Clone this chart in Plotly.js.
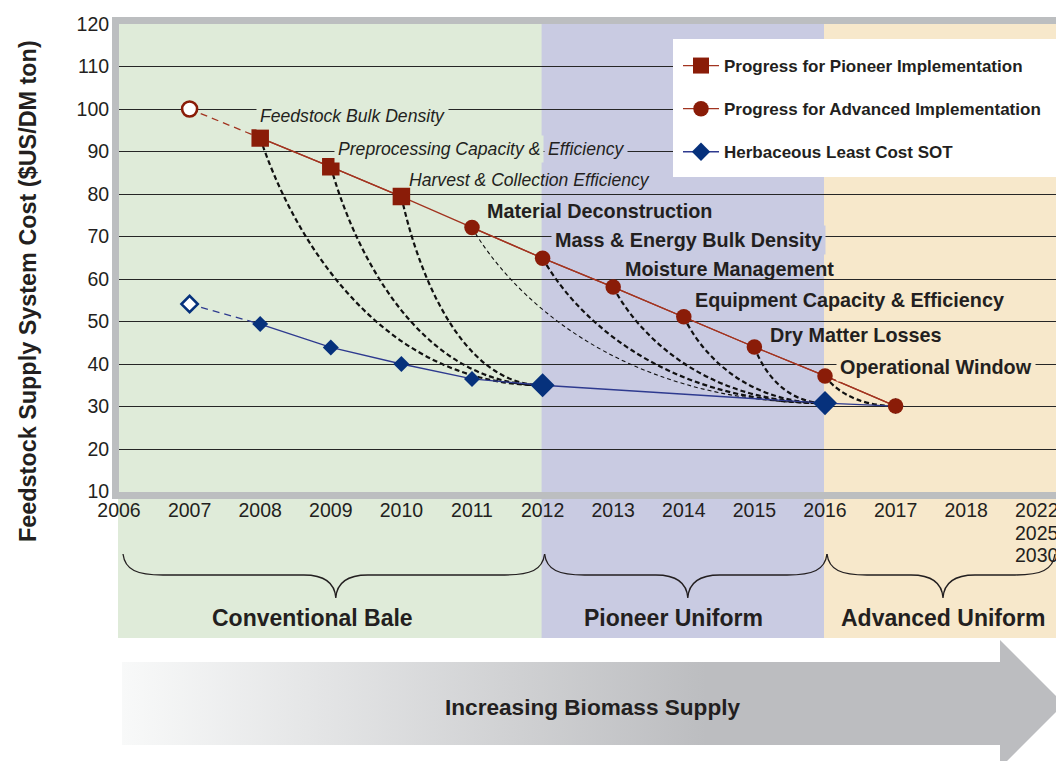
<!DOCTYPE html>
<html>
<head>
<meta charset="utf-8">
<script src="https://cdn.plot.ly/plotly-3.0.1.min.js"></script>
<style>
html, body { margin: 0; padding: 0; background: #ffffff; }
#chart { width: 1056px; height: 761px; }
</style>
</head>
<body>
<div id="chart"></div>
<script>
// ---------------- data ----------------
const baselineYear = [2007];
const baselineProgressCost = [100];
const baselineSotCost = [54.1];

const pioneerYears = [2008, 2009, 2010];
const pioneerCost = [93.2, 86.4, 79.4];

const advancedYears = [2011, 2012, 2013, 2014, 2015, 2016, 2017];
const advancedCost = [72.1, 64.9, 58.1, 51.1, 44.0, 37.2, 30.1];

const sotYears = [2008, 2009, 2010, 2011, 2012, 2016, 2017];
const sotCost = [49.4, 43.9, 40.0, 36.5, 35.0, 30.8, 30.1];
const milestoneYears = [2012, 2016];

const connectorFrom = [2008, 2009, 2010, 2011, 2012, 2013, 2014, 2015, 2016];
const connectorTo = [2012, 2012, 2012, 2016, 2016, 2016, 2016, 2016, 2017];

const tickYears = [2006, 2007, 2008, 2009, 2010, 2011, 2012, 2013, 2014, 2015, 2016, 2017, 2018, 2019];
const tickLabels = ['2006', '2007', '2008', '2009', '2010', '2011', '2012', '2013', '2014', '2015', '2016', '2017', '2018', '2022'];
const extraTickLabels = ['2025', '2030'];
const costTicks = [10, 20, 30, 40, 50, 60, 70, 80, 90, 100, 110, 120];

const pioneerLabels = ['Feedstock Bulk Density', 'Preprocessing Capacity &', 'Efficiency', 'Harvest & Collection Efficiency'];
const advancedLabels = ['Material Deconstruction', 'Mass & Energy Bulk Density', 'Moisture Management',
  'Equipment Capacity & Efficiency', 'Dry Matter Losses', 'Operational Window'];

const phaseNames = ['Conventional Bale', 'Pioneer Uniform', 'Advanced Uniform'];
const phaseStart = [2006, 2012, 2016];
const seriesNames = ['Progress for Pioneer Implementation', 'Progress for Advanced Implementation', 'Herbaceous Least Cost SOT'];
const yTitle = 'Feedstock Supply System Cost ($US/DM ton)';
const arrowLabel = 'Increasing Biomass Supply';

// ---------------- style / geometry ----------------
const W = 1056, H = 761;
const FONT = '"Liberation Sans", Arial, sans-serif';
const INK = '#231f20';
const RED = '#8a1c08', RED_LINE = '#a23420';
const BLUE = '#06317c', BLUE_LINE = '#2e3a8f';
const BAND_COLORS = ['#dfebd9', '#c9cbe2', '#f7e8cb'];
const FRAME = '#bcbec0';

const PX_LEFT = 119, PX_PER_YEAR = 70.6, PY_TOP = 24, PY_BOTTOM = 491.5;
const X0 = 2006, X1 = X0 + (W - PX_LEFT) / PX_PER_YEAR;
const px = yr => PX_LEFT + (yr - X0) * PX_PER_YEAR;
const paperX = p => p / W;
const paperY = p => 1 - p / H;

const costAt = yr => {
  let i = pioneerYears.indexOf(yr);
  if (i >= 0) return pioneerCost[i];
  i = advancedYears.indexOf(yr);
  return advancedCost[i];
};
const sotAt = yr => sotCost[sotYears.indexOf(yr)];

// ---------------- traces ----------------
const traces = [];
traces.push({
  x: baselineYear.concat([sotYears[0]]), y: baselineSotCost.concat([sotCost[0]]),
  mode: 'lines', line: {color: BLUE_LINE, width: 1.3, dash: '7px,5px'},
  showlegend: false, hoverinfo: 'skip'
});
traces.push({
  x: baselineYear, y: baselineSotCost, mode: 'markers',
  marker: {symbol: 'diamond', size: 12.5, color: '#ffffff', line: {color: BLUE, width: 2.6}},
  showlegend: false, hoverinfo: 'skip'
});
traces.push({
  name: seriesNames[2], legendgroup: 'c', legendrank: 3,
  x: sotYears, y: sotCost, mode: 'lines+markers',
  line: {color: BLUE_LINE, width: 1.3},
  marker: {symbol: 'diamond', color: BLUE, opacity: 1, line: {width: 0},
    size: sotYears.map(y => milestoneYears.includes(y) ? 18.5 : 12.3)}
});
traces.push({
  x: baselineYear.concat([pioneerYears[0]]), y: baselineProgressCost.concat([pioneerCost[0]]),
  mode: 'lines', line: {color: RED_LINE, width: 1.3, dash: '7px,5px'},
  showlegend: false, hoverinfo: 'skip'
});
traces.push({
  x: pioneerYears.concat(advancedYears), y: pioneerCost.concat(advancedCost),
  mode: 'lines', line: {color: RED_LINE, width: 1.3},
  showlegend: false, hoverinfo: 'skip'
});
traces.push({
  x: baselineYear, y: baselineProgressCost, mode: 'markers',
  marker: {symbol: 'circle', size: 15, color: '#ffffff', line: {color: RED, width: 2.6}},
  showlegend: false, hoverinfo: 'skip'
});
traces.push({
  name: seriesNames[0], legendgroup: 'a', legendrank: 1,
  x: pioneerYears, y: pioneerCost, mode: 'lines+markers',
  line: {color: RED_LINE, width: 1.3},
  marker: {symbol: 'square', size: 17.5, color: RED, line: {width: 0}}
});
traces.push({
  name: seriesNames[1], legendgroup: 'b', legendrank: 2,
  x: advancedYears, y: advancedCost, mode: 'lines+markers',
  line: {color: RED_LINE, width: 1.3},
  marker: {symbol: 'circle', size: 15.5, color: RED, line: {width: 0}}
});
// gradient arrow (decoration, pixel canvas on x2/y2)
traces.push({
  x: [122, 1000, 1000, 1064, 1000, 1000, 122, 122],
  y: [662, 662, 640, 704, 768, 745, 745, 662],
  xaxis: 'x2', yaxis: 'y2', mode: 'lines', line: {width: 0},
  fill: 'toself',
  fillgradient: {type: 'horizontal', start: 122, stop: 1064,
    colorscale: [[0, '#f8f9f9'], [0.62, '#bcbdc0'], [1, '#bcbdc0']]},
  showlegend: false, hoverinfo: 'skip'
});

// ---------------- shapes ----------------
const shapes = [];
phaseStart.forEach((s, i) => {
  const last = i + 1 >= phaseStart.length;
  shapes.push({
    type: 'rect', xref: 'paper', yref: 'paper', layer: 'below',
    x0: paperX(px(s) - 1), x1: paperX(last ? W + 5 : px(phaseStart[i + 1]) + 2),
    y0: paperY(638), y1: paperY(PY_TOP),
    fillcolor: BAND_COLORS[i], line: {width: 0}
  });
});
// white legend panel reaching the right edge
shapes.push({type: 'rect', xref: 'paper', yref: 'paper', layer: 'above',
  x0: paperX(673), x1: paperX(W + 5), y0: paperY(177), y1: paperY(39),
  fillcolor: '#ffffff', line: {width: 0}});
// curved dashed connectors
connectorFrom.forEach((f, i) => {
  const t = connectorTo[i];
  const x0 = f, y0 = costAt(f), x1 = t, y1 = sotAt(t);
  const dx = x1 - x0, dy = y1 - y0;
  const path = `M ${x0},${y0} C ${x0 + 0.1 * dx},${y0 + 0.35 * dy} ${x0 + 0.4 * dx},${y1} ${x1},${y1}`;
  shapes.push({
    type: 'path', xref: 'x', yref: 'y', layer: 'between', path: path,
    line: {color: '#111111', width: f === 2011 ? 1.1 : 2.2, dash: f === 2011 ? '4px,3px' : '5px,3px'}
  });
});
// braces (pixel canvas x2/y2)
phaseStart.forEach((s, i) => {
  const a = px(s) + (i === 0 ? 4 : 2);
  const b = i + 1 < phaseStart.length ? px(phaseStart[i + 1]) + 2 : 1055;
  const t = (a + b) / 2 + 2;
  const top = 554, mid = 575, tip = 598;
  const p = `M ${a},${top} C ${a + 2},${mid - 5} ${a + 14},${mid} ${a + 40},${mid} ` +
    `L ${t - 32},${mid} C ${t - 12},${mid} ${t - 1},${mid + 7} ${t},${tip} ` +
    `C ${t + 1},${mid + 7} ${t + 12},${mid} ${t + 32},${mid} ` +
    `L ${b - 40},${mid} C ${b - 14},${mid} ${b - 2},${mid - 5} ${b},${top}`;
  shapes.push({type: 'path', xref: 'x2', yref: 'y2', layer: 'above', path: p,
    line: {color: INK, width: 1.3}});
});

// ---------------- annotations ----------------
const italic = {family: FONT, size: 17.6, color: INK, style: 'italic'};
const bold = {family: FONT, size: 19.8, color: INK, weight: 'bold'};
const annotations = [];
annotations.push({xref: 'x', yref: 'y', x: pioneerYears[0], y: pioneerCost[0], text: pioneerLabels[0],
  xanchor: 'left', yanchor: 'middle', xshift: -4, yshift: 22, showarrow: false, font: italic,
  bgcolor: BAND_COLORS[0], borderpad: 3});
annotations.push({xref: 'x', yref: 'y', x: phaseStart[1], y: pioneerCost[1], text: pioneerLabels[1],
  xanchor: 'right', yanchor: 'middle', xshift: 1, yshift: 18, showarrow: false, font: italic,
  bgcolor: BAND_COLORS[0], borderpad: 3});
annotations.push({xref: 'x', yref: 'y', x: phaseStart[1], y: pioneerCost[1], text: pioneerLabels[2],
  xanchor: 'left', yanchor: 'middle', xshift: 1, yshift: 18, showarrow: false, font: italic,
  bgcolor: BAND_COLORS[1], borderpad: 3});
annotations.push({xref: 'x', yref: 'y', x: pioneerYears[2], y: pioneerCost[2], text: pioneerLabels[3],
  xanchor: 'left', yanchor: 'middle', xshift: 6, yshift: 17, showarrow: false, font: italic});
const advShift = [[13, 17], [8, 18], [10, 18], [9, 17], [14, 12], [11, 9]];
const advBg = [null, 1, null, null, null, 2];
advancedLabels.forEach((txt, i) => {
  const a = {xref: 'x', yref: 'y', x: advancedYears[i], y: advancedCost[i], text: txt,
    xanchor: 'left', yanchor: 'middle', xshift: advShift[i][0], yshift: advShift[i][1],
    showarrow: false, font: bold};
  if (advBg[i] !== null) { a.bgcolor = BAND_COLORS[advBg[i]]; a.borderpad = 3; }
  annotations.push(a);
});
extraTickLabels.forEach((txt, i) => {
  annotations.push({xref: 'x', yref: 'paper', x: tickYears[tickYears.length - 1], y: paperY(533 + 22 * i),
    text: txt, showarrow: false, xanchor: 'center', yanchor: 'middle',
    font: {family: FONT, size: 19.5, color: INK}});
});
annotations.push({xref: 'paper', yref: 'paper', x: paperX(28), y: paperY(291), text: yTitle,
  textangle: -90, showarrow: false, xanchor: 'center', yanchor: 'middle',
  font: {family: FONT, size: 23.4, color: INK, weight: 'bold'}});
const phaseShift = [-18, -10, 3];
phaseNames.forEach((txt, i) => {
  const s = phaseStart[i];
  const e = i + 1 < phaseStart.length ? phaseStart[i + 1] : X0 + (1055 - PX_LEFT) / PX_PER_YEAR;
  annotations.push({xref: 'x', yref: 'paper', x: (s + e) / 2, y: paperY(618), xshift: phaseShift[i],
    text: txt, showarrow: false, xanchor: 'center', yanchor: 'middle',
    font: {family: FONT, size: 23, color: INK, weight: 'bold'}});
});
annotations.push({xref: 'paper', yref: 'paper', x: paperX(592), y: paperY(707), text: arrowLabel,
  showarrow: false, xanchor: 'center', yanchor: 'middle',
  font: {family: FONT, size: 22.6, color: INK, weight: 'bold'}});

// ---------------- layout ----------------
const layout = {
  width: W, height: H,
  margin: {l: 0, r: 0, t: 0, b: 0, pad: 0},
  paper_bgcolor: '#ffffff', plot_bgcolor: 'rgba(0,0,0,0)',
  font: {family: FONT, color: INK},
  showlegend: true,
  xaxis: {
    domain: [paperX(PX_LEFT), 1], range: [X0, X1], anchor: 'y',
    tickmode: 'array', tickvals: tickYears, ticktext: tickLabels, ticks: '',
    ticklabelstandoff: -5, ticklabeloverflow: 'allow',
    showgrid: false, zeroline: false, showline: true, linecolor: FRAME, linewidth: 7, mirror: true,
    tickfont: {family: FONT, size: 19.5, color: INK}, fixedrange: true, automargin: false
  },
  yaxis: {
    domain: [paperY(PY_BOTTOM), paperY(PY_TOP)], range: [10, 120], anchor: 'x',
    tickmode: 'array', tickvals: costTicks, ticks: '', ticklabelstandoff: -1,
    showgrid: true, gridcolor: '#262626', gridwidth: 1, zeroline: false,
    showline: true, linecolor: FRAME, linewidth: 7,
    tickfont: {family: FONT, size: 19.5, color: INK}, fixedrange: true, automargin: false
  },
  xaxis2: {domain: [0, 1], range: [0, W], anchor: 'y2', visible: false, fixedrange: true},
  yaxis2: {domain: [0, 1], range: [H, 0], anchor: 'x2', visible: false, fixedrange: true},
  legend: {
    x: paperX(678), y: paperY(48), xanchor: 'left', yanchor: 'top',
    bgcolor: 'rgba(255,255,255,0)', borderwidth: 0, traceorder: 'grouped', tracegroupgap: 18,
    itemwidth: 36,
    font: {family: FONT, size: 17, color: INK, weight: 'bold'}
  },
  shapes: shapes,
  annotations: annotations
};

Plotly.newPlot('chart', traces, layout, {displayModeBar: false, staticPlot: true});
</script>
</body>
</html>
